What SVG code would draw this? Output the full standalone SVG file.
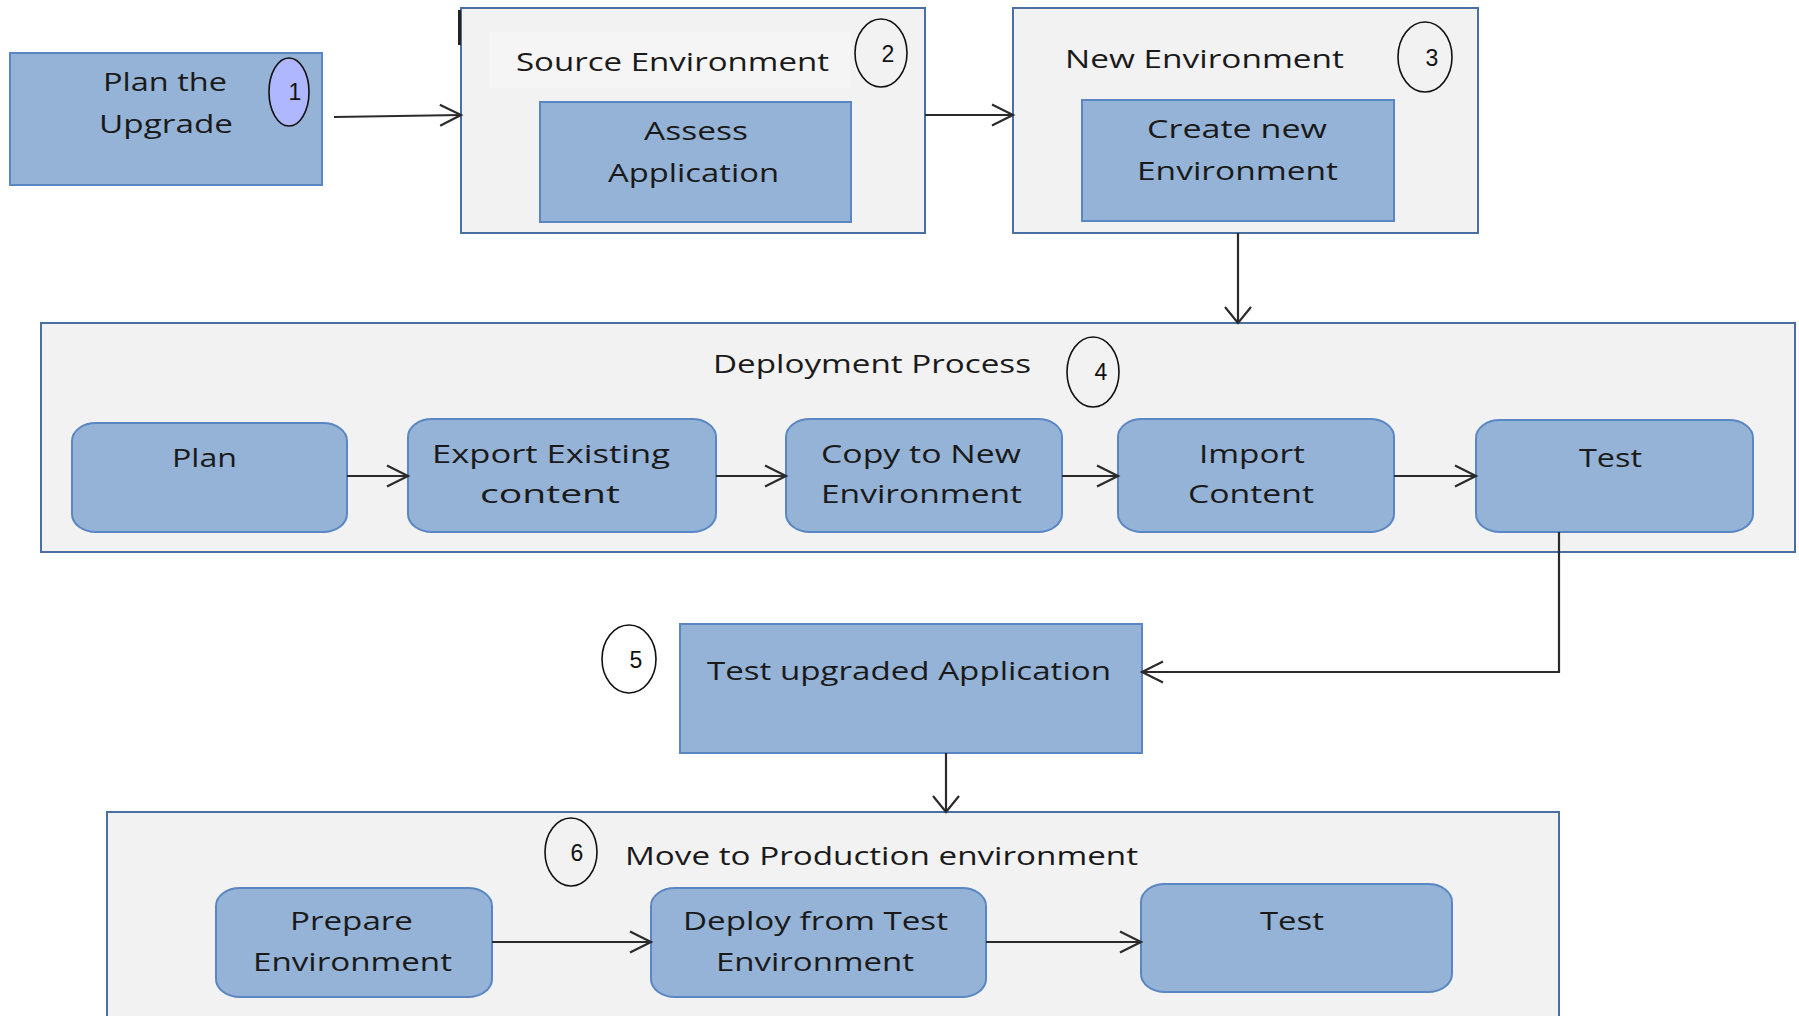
<svg xmlns="http://www.w3.org/2000/svg" width="1799" height="1016" viewBox="0 0 1799 1016">
  <style>
    .container { fill: #F2F2F2; stroke: #4A6FA3; stroke-width: 2; }
    .node { fill: #95B3D7; stroke: #5A87C4; stroke-width: 2; }
    .lbl { font-family: "Open Sans", "Liberation Sans", sans-serif; font-size: 26px; fill: #1A1A1A; text-anchor: middle; }
    .num { font-family: "Liberation Sans", Arial, sans-serif; font-size: 23px; fill: #111; text-anchor: middle; }
    .badge { fill: none; stroke: #111; stroke-width: 1.6; }
    .conn { fill: none; stroke: #2B2B2B; stroke-width: 2.2; }
  </style>
  <defs>
    <marker id="arrH" markerUnits="userSpaceOnUse" markerWidth="26" markerHeight="26" refX="22" refY="11" orient="auto" overflow="visible">
      <path d="M1,0.5 L22,11 L1,21.5" fill="none" stroke="#2B2B2B" stroke-width="2.2"/>
    </marker>
    <marker id="arrV" markerUnits="userSpaceOnUse" markerWidth="22" markerHeight="30" refX="17" refY="13" orient="auto" overflow="visible">
      <path d="M1,0 L17,13 L1,26" fill="none" stroke="#2B2B2B" stroke-width="2.2"/>
    </marker>
  </defs>
  <rect x="0" y="0" width="1799" height="1016" fill="#FFFFFF"/>

  <g id="step1">
    <rect class="node" x="10" y="53" width="312" height="132"/>
    <text class="lbl" x="165" y="91" textLength="124" lengthAdjust="spacingAndGlyphs">Plan the</text>
    <text class="lbl" x="166" y="133" textLength="134" lengthAdjust="spacingAndGlyphs">Upgrade</text>
    <ellipse cx="289" cy="92" rx="20" ry="34" fill="#AFB8FF" stroke="#111" stroke-width="1.6"/>
    <text class="num" x="295" y="100">1</text>
  </g>

  <g id="step2">
    <rect class="container" x="461" y="8" width="464" height="225"/>
    <rect x="489" y="32" width="362" height="56" fill="#F5F5F5"/>
    <rect x="458" y="10" width="3" height="35" fill="#2A2218"/>
    <text class="lbl" x="672.5" y="71" textLength="313" lengthAdjust="spacingAndGlyphs">Source Environment</text>
    <ellipse class="badge" cx="881" cy="53" rx="26" ry="34"/>
    <text class="num" x="888" y="62">2</text>
    <g id="assess">
      <rect class="node" x="540" y="102" width="311" height="120"/>
      <text class="lbl" x="696" y="140" textLength="104" lengthAdjust="spacingAndGlyphs">Assess</text>
      <text class="lbl" x="693.5" y="182" textLength="171" lengthAdjust="spacingAndGlyphs">Application</text>
    </g>
  </g>

  <g id="step3">
    <rect class="container" x="1013" y="8" width="465" height="225"/>
    <text class="lbl" x="1204.5" y="68" textLength="279" lengthAdjust="spacingAndGlyphs">New Environment</text>
    <ellipse class="badge" cx="1425" cy="57" rx="27" ry="35"/>
    <text class="num" x="1432" y="66">3</text>
    <g id="create">
      <rect class="node" x="1082" y="100" width="312" height="121"/>
      <text class="lbl" x="1237" y="138" textLength="180" lengthAdjust="spacingAndGlyphs">Create new</text>
      <text class="lbl" x="1237.5" y="180" textLength="201" lengthAdjust="spacingAndGlyphs">Environment</text>
    </g>
  </g>

  <g id="step4">
    <rect class="container" x="41" y="323" width="1754" height="229"/>
    <text class="lbl" x="872" y="373" textLength="318" lengthAdjust="spacingAndGlyphs">Deployment Process</text>
    <ellipse class="badge" cx="1093" cy="372" rx="26" ry="35"/>
    <text class="num" x="1101" y="380">4</text>
    <g id="plan">
      <rect class="node" x="72" y="423" width="275" height="109" rx="24" ry="18"/>
      <text class="lbl" x="204.5" y="467" textLength="65" lengthAdjust="spacingAndGlyphs">Plan</text>
    </g>
    <g id="export">
      <rect class="node" x="408" y="419" width="308" height="113" rx="24" ry="18"/>
      <text class="lbl" x="551" y="463" textLength="238" lengthAdjust="spacingAndGlyphs">Export Existing</text>
      <text class="lbl" x="550" y="503" textLength="140" lengthAdjust="spacingAndGlyphs">content</text>
    </g>
    <g id="copy">
      <rect class="node" x="786" y="419" width="276" height="113" rx="24" ry="18"/>
      <text class="lbl" x="921" y="463" textLength="200" lengthAdjust="spacingAndGlyphs">Copy to New</text>
      <text class="lbl" x="921.5" y="503" textLength="201" lengthAdjust="spacingAndGlyphs">Environment</text>
    </g>
    <g id="import">
      <rect class="node" x="1118" y="419" width="276" height="113" rx="24" ry="18"/>
      <text class="lbl" x="1252" y="463" textLength="106" lengthAdjust="spacingAndGlyphs">Import</text>
      <text class="lbl" x="1251" y="503" textLength="126" lengthAdjust="spacingAndGlyphs">Content</text>
    </g>
    <g id="test1">
      <rect class="node" x="1476" y="420" width="277" height="112" rx="24" ry="18"/>
      <text class="lbl" x="1610.5" y="467" textLength="63" lengthAdjust="spacingAndGlyphs">Test</text>
    </g>
  </g>

  <g id="step5">
    <ellipse class="badge" cx="629" cy="659" rx="27" ry="34"/>
    <text class="num" x="636" y="668">5</text>
    <rect class="node" x="680" y="624" width="462" height="129"/>
    <text class="lbl" x="909" y="680" textLength="404" lengthAdjust="spacingAndGlyphs">Test upgraded Application</text>
  </g>

  <g id="step6">
    <rect class="container" x="107" y="812" width="1452" height="220"/>
    <ellipse class="badge" cx="571" cy="852" rx="26" ry="34"/>
    <text class="num" x="577" y="861">6</text>
    <text class="lbl" x="881.5" y="865" textLength="513" lengthAdjust="spacingAndGlyphs">Move to Production environment</text>
    <g id="prepare">
      <rect class="node" x="216" y="888" width="276" height="109" rx="24" ry="18"/>
      <text class="lbl" x="351.5" y="930" textLength="123" lengthAdjust="spacingAndGlyphs">Prepare</text>
      <text class="lbl" x="352.5" y="971" textLength="199" lengthAdjust="spacingAndGlyphs">Environment</text>
    </g>
    <g id="deploy">
      <rect class="node" x="651" y="888" width="335" height="109" rx="24" ry="18"/>
      <text class="lbl" x="815.5" y="930" textLength="265" lengthAdjust="spacingAndGlyphs">Deploy from Test</text>
      <text class="lbl" x="815" y="971" textLength="198" lengthAdjust="spacingAndGlyphs">Environment</text>
    </g>
    <g id="test2">
      <rect class="node" x="1141" y="884" width="311" height="108" rx="24" ry="18"/>
      <text class="lbl" x="1292" y="930" textLength="64" lengthAdjust="spacingAndGlyphs">Test</text>
    </g>
  </g>

  <g id="connectors">
    <path class="conn" d="M334,117 L461,115" marker-end="url(#arrH)"/>
    <path class="conn" d="M925,115 H1013" marker-end="url(#arrH)"/>
    <path class="conn" d="M1238,233 V323" marker-end="url(#arrV)"/>
    <path class="conn" d="M347,476 H408" marker-end="url(#arrH)"/>
    <path class="conn" d="M716,476 H786" marker-end="url(#arrH)"/>
    <path class="conn" d="M1062,476 H1118" marker-end="url(#arrH)"/>
    <path class="conn" d="M1394,476 H1476" marker-end="url(#arrH)"/>
    <path class="conn" d="M1559,532 V672 H1142" marker-end="url(#arrH)"/>
    <path class="conn" d="M946,753 V812" marker-end="url(#arrV)"/>
    <path class="conn" d="M492,942 H651" marker-end="url(#arrH)"/>
    <path class="conn" d="M986,942 H1141" marker-end="url(#arrH)"/>
  </g>
</svg>
